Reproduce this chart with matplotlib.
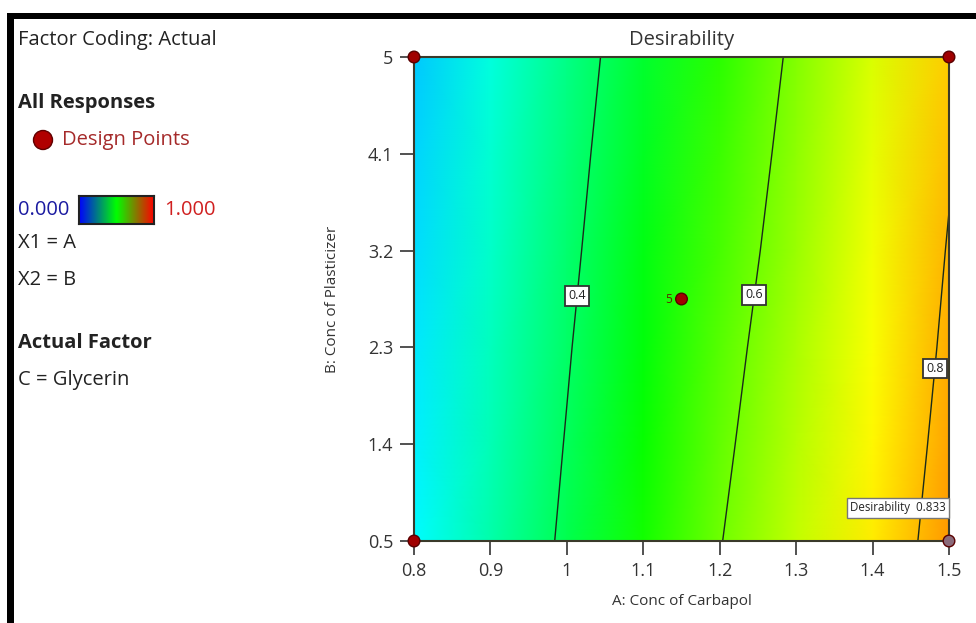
import numpy as np
import matplotlib
matplotlib.use("Agg")
import matplotlib.pyplot as plt
from matplotlib.colors import LinearSegmentedColormap
from matplotlib.patches import Rectangle, Ellipse

plt.rcParams['font.family'] = ['Open Sans', 'Noto Sans', 'DejaVu Sans']

# ---- data ----
A_vals = [0.8, 0.9, 1.0, 1.1, 1.2, 1.3, 1.4, 1.5]          # A: Conc of Carbapol
B_vals = [0.5, 1.4, 2.3, 3.2, 4.1, 5.0]                    # B: Conc of Plasticizer
x_ticks = [0.8, 0.9, 1.0, 1.1, 1.2, 1.3, 1.4, 1.5]
x_ticklabels = ["0.8", "0.9", "1", "1.1", "1.2", "1.3", "1.4", "1.5"]
y_ticks = [0.5, 1.4, 2.3, 3.2, 4.1, 5.0]
y_ticklabels = ["0.5", "1.4", "2.3", "3.2", "4.1", "5"]
D_rows = [
    [0.243, 0.326, 0.414, 0.506, 0.597, 0.675, 0.752, 0.833],  # B=0.5
    [0.233, 0.317, 0.404, 0.494, 0.584, 0.663, 0.741, 0.823],  # B=1.4
    [0.224, 0.307, 0.394, 0.482, 0.571, 0.651, 0.731, 0.813],  # B=2.3
    [0.214, 0.298, 0.383, 0.471, 0.557, 0.638, 0.720, 0.804],  # B=3.2
    [0.205, 0.288, 0.373, 0.459, 0.544, 0.626, 0.710, 0.794],  # B=4.1
    [0.195, 0.279, 0.363, 0.447, 0.531, 0.614, 0.699, 0.784],  # B=5.0
]
contour_levels = [0.4, 0.6, 0.8]
label_pos = [(1.012, 2.78), (1.254, 2.78), (1.485, 2.1)]
design_A = [0.8, 1.5, 0.8, 1.5, 1.15]
design_B = [5.0, 5.0, 0.5, 0.5, 2.75]
center_label = "5"
flag_value = 0.833

# ---- figure ----
W, H = 976, 623
fig = plt.figure(figsize=(W / 100, H / 100), dpi=100)
fig.patch.set_facecolor("white")

def fx(px):
    return px / W

def fy(py):
    return 1 - py / H

# black frame (top and left)
fig.patches.append(Rectangle((fx(7), fy(19)), 1 - fx(7), 6 / H, transform=fig.transFigure,
                             facecolor="black", edgecolor="none"))
fig.patches.append(Rectangle((fx(7), 0), 7 / W, fy(13), transform=fig.transFigure,
                             facecolor="black", edgecolor="none"))

ax = fig.add_axes([fx(414), fy(541), fx(949) - fx(414), fy(57) - fy(541)])

cmap = LinearSegmentedColormap.from_list(
    "de", [(0.0, "#0000ff"), (0.25, "#00ffff"), (0.5, "#00ff00"), (0.75, "#ffff00"), (1.0, "#ff0000")])

A = np.array(A_vals)
B = np.array(B_vals)
D = np.array(D_rows)
AA, BB = np.meshgrid(A, B)
ax.pcolormesh(AA, BB, D, shading="gouraud", cmap=cmap, vmin=0.0, vmax=0.98, zorder=1)
cs = ax.contour(AA, BB, D, levels=contour_levels, colors="#1a2a1a", linewidths=1.0, zorder=2)
labels = ax.clabel(cs, fmt="%.1f", manual=label_pos, inline=False, fontsize=9, colors="#222222")
for t in labels:
    t.set_rotation(0)
    t.set_bbox(dict(facecolor="white", edgecolor="#333333", boxstyle="square,pad=0.25", linewidth=1.3))
    t.set_zorder(5)

ax.set_xlim(0.8, 1.5)
ax.set_ylim(0.5, 5.0)
ax.set_xticks(x_ticks)
ax.set_xticklabels(x_ticklabels)
ax.set_yticks(y_ticks)
ax.set_yticklabels(y_ticklabels)
ax.tick_params(direction="out", length=10, width=1.2, color="#333333", labelsize=13,
               labelcolor="#333333", pad=5)
for s in ax.spines.values():
    s.set_color("#3a3a2a")
    s.set_linewidth(1.5)
    s.set_zorder(3)

ax.set_title("Desirability", fontsize=14.5, color="#333333", pad=9)
ax.set_xlabel("A: Conc of Carbapol", fontsize=11, color="#333333", labelpad=10)
ax.set_ylabel("B: Conc of Plasticizer", fontsize=11, color="#333333", labelpad=20)

# design points
cols = ["#a00000", "#a00000", "#a00000", "#8a6a7a", "#a00000"]
ax.scatter(design_A, design_B, s=70, c=cols, edgecolors="#5a0000", linewidths=1.0,
           zorder=6, clip_on=False)
ax.text(design_A[-1] - 0.012, design_B[-1], center_label, fontsize=8.5, color="#5a2a00",
        ha="right", va="center", zorder=6)

# flag
ax.text(1.496, 0.81, "Desirability  %.3f" % flag_value, fontsize=8.3, color="#222222",
        ha="right", va="center", zorder=7,
        bbox=dict(facecolor="white", edgecolor="#777777", boxstyle="square,pad=0.3", linewidth=1.0))

# ---- left legend panel ----
tc = "#222222"
fs = 14.5
fig.text(fx(18), fy(40), "Factor Coding: Actual", fontsize=fs, color=tc, va="center", ha="left")
fig.text(fx(18), fy(103), "All Responses", fontsize=fs, color=tc, va="center", ha="left",
         fontweight="bold")
fig.patches.append(Ellipse((fx(43), fy(140)), 19 / W, 19 / H,
                           transform=fig.transFigure, facecolor="#b00000",
                           edgecolor="#600000", linewidth=1))
fig.text(fx(62), fy(140), "Design Points", fontsize=fs, color="#a52a2a", va="center", ha="left")
fig.text(fx(18), fy(210), "0.000", fontsize=fs, color="#1a1aa0", va="center", ha="left")
fig.text(fx(164), fy(210), "1.000", fontsize=fs, color="#d02020", va="center", ha="left")
cax = fig.add_axes([fx(79), fy(224), 75 / W, 28 / H])
legend_cmap = LinearSegmentedColormap.from_list("lg", ["#0000ff", "#00ff00", "#ff0000"])
cax.imshow(np.linspace(0, 1, 256)[None, :], aspect="auto", cmap=legend_cmap)
cax.set_xticks([])
cax.set_yticks([])
for s in cax.spines.values():
    s.set_color("#222222")
    s.set_linewidth(1.5)
fig.text(fx(18), fy(243), "X1 = A", fontsize=fs, color=tc, va="center", ha="left")
fig.text(fx(18), fy(280), "X2 = B", fontsize=fs, color=tc, va="center", ha="left")
fig.text(fx(18), fy(343), "Actual Factor", fontsize=fs, color=tc, va="center", ha="left",
         fontweight="bold")
fig.text(fx(18), fy(380), "C = Glycerin", fontsize=fs, color=tc, va="center", ha="left")

fig.savefig("out.png", dpi=100)
